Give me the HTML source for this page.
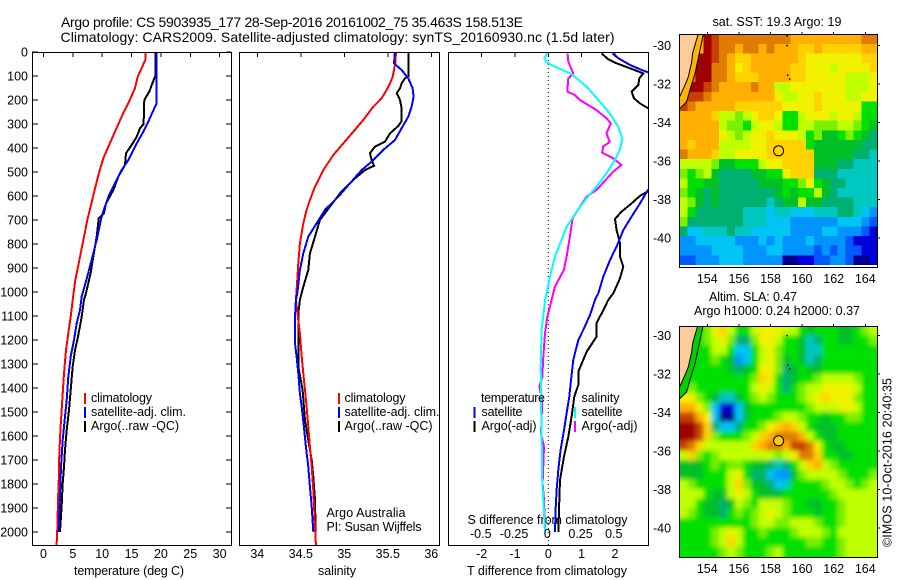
<!DOCTYPE html>
<html>
<head>
<meta charset="utf-8">
<title>Argo profile</title>
<style>
html,body{margin:0;padding:0;background:#fff;}
svg{display:block;}
text{font-family:"Liberation Sans",sans-serif;font-size:12.5px;fill:#000;}
</style>
</head>
<body>
<svg id="chart" xmlns="http://www.w3.org/2000/svg" width="900" height="580" viewBox="0 0 900 580">
<defs>
<clipPath id="clip1"><rect x="32" y="52" width="199" height="494"/></clipPath>
<clipPath id="clip2"><rect x="239" y="52" width="200" height="494"/></clipPath>
<clipPath id="clip3"><rect x="448" y="52" width="200" height="494"/></clipPath>
<clipPath id="clipSst"><rect x="680" y="34" width="197" height="233"/></clipPath>
<clipPath id="clipSla"><rect x="680" y="326" width="197" height="231"/></clipPath>
<filter id="smooth" x="-5%" y="-5%" width="110%" height="110%"><feGaussianBlur stdDeviation="2.4"/></filter>
</defs>
<text x="61" y="27" font-size="14" style="font-size:14px" textLength="462" lengthAdjust="spacing">Argo profile: CS 5903935_177 28-Sep-2016 20161002_75 35.463S 158.513E</text>
<text x="60.5" y="42" style="font-size:14px" textLength="554" lengthAdjust="spacing">Climatology: CARS2009. Satellite-adjusted climatology: synTS_20160930.nc (1.5d later)</text>
<text x="74" y="575" textLength="110" lengthAdjust="spacing">temperature (deg C)</text>
<text x="318" y="575" textLength="38" lengthAdjust="spacing">salinity</text>
<text x="467" y="575" textLength="160" lengthAdjust="spacing">T difference from climatology</text>
<text x="467.5" y="524" textLength="160" lengthAdjust="spacing">S difference from climatology</text>
<text x="326.5" y="517" textLength="79" lengthAdjust="spacing">Argo Australia</text>
<text x="326.5" y="531" textLength="95" lengthAdjust="spacing">PI: Susan Wijffels</text>
<text x="712.5" y="26" textLength="129" lengthAdjust="spacing">sat. SST: 19.3 Argo: 19</text>
<text x="709" y="301" textLength="88" lengthAdjust="spacing">Altim. SLA: 0.47</text>
<text x="694" y="315" textLength="166" lengthAdjust="spacing">Argo h1000: 0.24 h2000: 0.37</text>
<text x="0" y="0" transform="translate(891.5,547) rotate(-90)" textLength="169" lengthAdjust="spacing">©IMOS 10-Oct-2016 20:40:35</text>
<g id="layer-maps"></g>
<g id="layer-lines"></g>
<g id="layer-axes"></g>
<g id="layer-legend"></g>
</svg>
<script>
// ---------- axis ticks ----------
const depthTicks = [0,100,200,300,400,500,600,700,800,900,1000,1100,1200,1300,1400,1500,1600,1700,1800,1900,2000];
const tempTicks = [0,5,10,15,20,25,30];
const salTicks = [34,34.5,35,35.5,36];
const tDiffTicks = [-2,-1,0,1,2];
const sDiffTicks = [-0.5,-0.25,0,0.25,0.5];
const lonTicks = [154,156,158,160,162,164];
const latTicks = [-30,-32,-34,-36,-38,-40];

// ---------- temperature panel ----------
const tempClimDepth = [0,33,68,103,151,214,269,332,394,443,499,568,644,700,797,881,950,1033,1103,1172,1242,1339,1450,1561,1672,1756,1867,1978,2054];
const tempClimValue = [17.35,17.35,16.72,16.04,15.59,14.45,13.32,12.18,11.05,10.19,9.51,8.77,8.03,7.47,6.67,5.99,5.42,4.97,4.63,4.23,3.83,3.49,3.21,2.92,2.70,2.64,2.47,2.36,2.24];
const tempSatDepth = [0,214,228,290,332,381,450,492,547,603,686,783,867,936,1019,1075,1131,1200,1269,1353,1450,1519,1617,1728,1853,1950,1999];
const tempSatValue = [19.28,19.28,19.0,17.86,17.0,15.87,14.45,13.3,12.18,11.05,9.9,9.06,8.2,7.47,6.5,6.22,5.65,5.2,4.63,4.23,3.95,3.66,3.27,2.98,2.81,2.64,2.58];
const tempArgoDepth = [0,100,138,165,200,300,318,353,387,422,471,519,575,631,672,693,769,867,922,1005,1033,1103,1158,1200,1242,1311,1408,1492,1575,1658,1728,1797,1894,1999];
const tempArgoValue = [19.05,19.05,18.43,18.03,17.18,17.06,16.44,15.87,15.02,14.05,13.88,12.75,11.9,10.65,10.31,9.4,9.06,8.38,8.03,7.24,6.9,6.5,6.1,5.76,5.37,4.97,4.63,4.34,3.95,3.66,3.49,3.27,3.09,2.81];

// ---------- salinity panel ----------
const salClimDepth = [0,47,103,131,158,193,228,283,332,381,429,492,561,617,658,714,797,881,992,1033,1117,1172,1269,1339,1408,1478,1561,1644,1728,1825,1978,2054];
const salClimValue = [35.594,35.586,35.556,35.525,35.487,35.429,35.333,35.218,35.103,34.989,34.874,34.759,34.663,34.605,34.567,34.529,34.49,34.471,34.452,34.444,34.471,34.49,34.51,34.529,34.548,34.567,34.586,34.605,34.625,34.644,34.663,34.674];
const salSatDepth = [0,47,75,110,151,186,228,269,318,367,408,457,492,547,603,658,714,769,839,908,1006,1033,1103,1214,1269,1339,1422,1478,1561,1644,1728,1811,1894,1999];
const salSatValue = [35.582,35.571,35.659,35.736,35.785,35.797,35.774,35.736,35.659,35.582,35.448,35.314,35.199,35.065,34.931,34.778,34.682,34.586,34.529,34.49,34.46,34.444,34.433,34.433,34.452,34.471,34.49,34.51,34.536,34.559,34.586,34.605,34.625,34.644];
const salArgoDepth = [0,100,110,131,151,172,200,228,290,308,339,374,394,422,450,474,492,533,589,644,700,769,839,908,978,1033,1089,1311,1408,1533,1617,1700,1769,1867,1999];
const salArgoValue = [35.739,35.739,35.697,35.659,35.64,35.602,35.64,35.655,35.655,35.621,35.525,35.467,35.352,35.295,35.314,35.341,35.238,35.103,34.95,34.835,34.72,34.663,34.605,34.586,34.529,34.49,34.471,34.471,34.521,34.548,34.586,34.625,34.644,34.663,34.67];

// ---------- difference panel ----------
const dTempSatDepth = [6,26,54,72,85,214,400,579,631,686,742,811,867,936,1006,1033,1096,1158,1200,1283,1367,1436,1506,1575,1658,1742,1825,1908,1999];
const dTempSatValue = [1.93,2.1,2.45,2.75,3.0,4.8,4.0,2.97,2.75,2.5,2.25,2.05,1.85,1.65,1.5,1.4,1.25,1.05,0.9,0.75,0.68,0.63,0.55,0.47,0.37,0.3,0.25,0.22,0.2];
const dTempArgoDepth = [6,31,47,68,89,110,138,165,193,214,235,350,579,599,631,665,696,742,797,853,894,943,1006,1033,1075,1130,1186,1249,1332,1387,1436,1519,1603,1686,1783,1908,1999];
const dTempArgoValue = [1.6,1.8,2.05,2.45,2.85,2.73,2.7,2.5,2.57,2.75,3.0,4.0,3.0,2.75,2.5,2.2,2.0,2.05,2.15,2.15,2.25,2.15,1.95,1.8,1.65,1.45,1.45,1.15,0.9,0.9,0.78,0.7,0.6,0.47,0.35,0.32,0.3];
const dSalSatDepth = [6,26,43,64,92,144,207,256,311,360,408,450,506,561,610,665,728,783,853,936,1006,1033,1075,1158,1311,1450,1589,1797,1867,1999];
const dSalSatValue = [-0.0075,-0.03,-0.0125,0.0625,0.175,0.2875,0.3875,0.4625,0.525,0.5575,0.5375,0.5,0.4375,0.3625,0.2875,0.2125,0.1375,0.1,0.05,0.0125,-0.0125,-0.025,-0.0325,-0.05,-0.0575,-0.055,-0.05,-0.045,-0.0375,-0.025];
const dSalArgoDepth = [6,40,89,110,165,179,200,221,242,276,297,339,374,394,419,443,471,499,575,603,644,693,769,853,908,978,1033,1061,1103,1172,1269,1353,1394,1450,1589,1644,1797,1867,1999];
const dSalArgoValue = [0.145,0.15,0.1875,0.15,0.1425,0.2,0.2375,0.3,0.3625,0.4375,0.47,0.4375,0.4625,0.4125,0.405,0.4875,0.55,0.4875,0.3625,0.2875,0.2375,0.1825,0.1625,0.1375,0.1175,0.05,0.025,0.0125,-0.0075,-0.025,-0.0375,-0.045,-0.0675,-0.045,-0.055,-0.0325,-0.0425,-0.0325,-0.025];

// ---------- map colour levels ----------
const levelColors = ["#00008c","#0000d8","#0058ff","#0094ff","#00c4f4","#00c8c0","#00b070","#00c028","#00e000","#78f000","#c0ff00","#f0f200","#ffd200","#ffb000","#e07c00","#c84000","#a00000"];

// ---------- SST grid (colour level per 0.5 degree cell, north to south) ----------
const sstRow00 = [13,13,13,16,15,14,14,14,14,14,14,14,14,14,13,13,13,13,13,13,13,13,13,14,14];
const sstRow01 = [13,13,13,16,15,14,14,13,14,14,13,14,13,13,13,12,12,13,12,12,12,12,12,13,13];
const sstRow02 = [13,13,16,16,15,14,13,12,12,13,13,13,13,13,13,12,11,11,11,11,11,11,11,12,12];
const sstRow03 = [13,13,16,16,14,14,13,11,12,13,13,13,13,13,12,12,11,11,11,10,11,11,11,11,12];
const sstRow04 = [13,14,16,16,14,14,13,12,12,12,13,13,13,13,12,12,11,11,11,11,11,10,10,10,11];
const sstRow05 = [13,16,16,15,14,13,13,13,13,14,13,13,10,10,11,11,11,11,11,11,11,10,10,10,11];
const sstRow06 = [14,15,15,14,13,13,13,13,13,13,13,13,11,10,10,11,11,12,11,11,11,10,10,11,11];
const sstRow07 = [15,14,13,13,13,13,13,12,12,12,12,12,12,11,11,11,11,12,11,11,11,11,11,8,8];
const sstRow08 = [13,13,13,13,12,10,10,9,10,11,12,12,11,8,8,10,11,11,11,10,11,11,10,8,8];
const sstRow09 = [13,13,13,13,13,10,9,9,8,10,11,11,10,8,8,10,10,9,9,9,10,10,9,8,7];
const sstRow10 = [13,13,13,13,13,11,10,9,10,11,11,12,11,11,11,10,8,9,7,7,8,9,8,7,6];
const sstRow11 = [13,12,13,13,13,10,10,10,10,11,11,12,12,12,12,12,8,7,7,7,7,7,7,6,6];
const sstRow12 = [14,13,13,13,12,10,10,11,11,11,11,12,12,12,12,12,12,7,7,7,7,7,6,6,5];
const sstRow13 = [10,10,10,10,9,7,7,8,8,8,10,11,11,12,12,12,12,7,7,7,6,6,5,5,5];
const sstRow14 = [9,8,9,10,7,6,6,6,6,7,7,8,8,11,12,12,12,6,6,6,5,5,5,5,5];
const sstRow15 = [10,8,8,7,7,6,6,6,6,6,7,7,7,8,8,9,11,8,7,6,6,5,5,5,5];
const sstRow16 = [9,8,7,6,7,6,6,6,6,6,6,6,7,8,7,8,8,10,7,6,5,5,5,5,5];
const sstRow17 = [10,9,7,6,7,6,6,6,6,6,6,5,6,7,7,10,7,7,6,6,6,6,5,5,5];
const sstRow18 = [10,8,6,6,6,6,6,6,5,5,5,4,5,5,4,4,4,5,5,5,6,6,5,4,3];
const sstRow19 = [9,6,6,6,6,6,6,6,5,5,5,4,4,4,3,3,3,3,3,3,4,4,4,3,2];
const sstRow20 = [6,4,4,5,5,5,6,5,5,4,4,4,4,4,3,3,3,3,4,4,3,3,3,2,1];
const sstRow21 = [3,3,4,4,4,4,4,3,3,3,4,3,4,3,3,3,4,3,3,3,3,2,1,1,1];
const sstRow22 = [3,3,3,3,4,4,4,4,3,3,3,4,4,3,3,3,3,2,3,2,3,2,2,1,1];
const sstRow23 = [2,2,3,3,3,4,4,4,3,3,3,3,3,0,0,1,1,2,2,3,3,2,0,0,1];
const sstGrid = [sstRow00,sstRow01,sstRow02,sstRow03,sstRow04,sstRow05,sstRow06,sstRow07,sstRow08,sstRow09,sstRow10,sstRow11,sstRow12,sstRow13,sstRow14,sstRow15,sstRow16,sstRow17,sstRow18,sstRow19,sstRow20,sstRow21,sstRow22,sstRow23];

// ---------- SLA grid ----------
const slaRow00 = [8,8,8,9,11,12,10,8,8,10,11,11,11,10,10,8,7,8,8,8,7,7,8,9,10];
const slaRow01 = [8,8,8,9,10,11,9,6,6,9,11,11,10,8,8,7,5,6,8,8,7,7,8,8,9];
const slaRow02 = [8,8,8,8,10,10,8,4,4,8,10,11,9,8,8,7,5,5,8,8,8,8,8,8,8];
const slaRow03 = [8,8,8,8,9,8,7,3,4,8,10,11,9,7,8,7,5,6,8,8,8,8,8,8,8];
const slaRow04 = [8,8,8,8,8,8,7,6,7,8,11,11,9,6,7,8,7,7,8,8,8,8,8,8,8];
const slaRow05 = [8,8,8,8,8,8,8,8,8,9,12,11,8,6,7,8,8,9,10,10,10,10,9,8,8];
const slaRow06 = [8,9,8,8,8,8,8,8,8,10,11,10,8,6,8,9,10,10,11,11,11,11,10,8,8];
const slaRow07 = [11,11,9,8,7,5,5,7,8,9,10,9,8,8,8,9,10,11,12,11,11,11,9,8,8];
const slaRow08 = [13,13,11,9,4,1,1,4,7,8,8,8,8,8,8,8,9,10,10,10,11,11,10,8,8];
const slaRow09 = [15,15,13,11,4,0,0,4,7,8,8,8,9,10,10,9,8,8,7,8,8,9,9,8,8];
const slaRow10 = [16,16,15,12,6,4,4,6,8,8,9,11,12,13,12,10,8,7,7,7,8,8,8,8,8];
const slaRow11 = [16,16,15,12,9,8,8,8,9,10,12,13,14,14,14,13,10,8,7,7,8,8,8,8,8];
const slaRow12 = [15,14,12,10,10,10,10,10,10,12,13,14,14,13,15,15,14,11,8,7,7,8,8,8,8];
const slaRow13 = [10,12,9,8,9,10,10,10,10,10,10,10,9,10,11,14,14,12,8,8,7,7,8,8,8];
const slaRow14 = [7,7,7,8,9,8,9,9,8,7,7,6,5,6,8,10,12,13,10,9,8,8,8,8,8];
const slaRow15 = [7,7,7,8,8,8,10,11,8,6,6,4,3,3,7,9,10,10,10,10,9,8,8,8,9];
const slaRow16 = [10,9,8,8,8,8,10,12,9,7,7,6,4,5,8,8,8,8,9,10,10,9,8,9,10];
const slaRow17 = [10,10,10,8,7,7,10,11,10,8,7,7,7,8,8,8,8,8,8,9,10,10,10,10,10];
const slaRow18 = [10,10,8,7,7,6,7,10,9,8,10,10,10,9,8,8,7,7,8,8,9,10,10,10,10];
const slaRow19 = [10,9,8,7,7,6,8,9,8,9,10,11,10,9,8,8,8,7,8,8,9,10,10,10,10];
const slaRow20 = [8,8,8,8,8,8,8,8,8,9,10,10,9,9,10,10,10,9,8,8,9,10,10,10,10];
const slaRow21 = [8,8,8,8,9,10,11,10,8,8,9,8,8,8,9,10,10,10,9,8,10,10,10,10,10];
const slaRow22 = [8,8,8,8,9,10,12,10,8,8,8,8,8,8,8,8,9,9,8,8,9,10,10,10,10];
const slaRow23 = [8,8,8,8,8,9,10,9,8,8,8,9,10,8,8,8,8,8,8,8,9,10,10,10,10];
const slaGrid = [slaRow00,slaRow01,slaRow02,slaRow03,slaRow04,slaRow05,slaRow06,slaRow07,slaRow08,slaRow09,slaRow10,slaRow11,slaRow12,slaRow13,slaRow14,slaRow15,slaRow16,slaRow17,slaRow18,slaRow19,slaRow20,slaRow21,slaRow22,slaRow23];

// ---------- geography ----------
const coastLon = [153.43,153.28,153.07,153.01,152.80,152.59,152.44,152.25];
const coastLat = [-29.4,-29.8,-30.4,-30.84,-31.62,-32.05,-32.31,-32.66];
const isobathLon = [153.75,153.54,153.22,152.90,152.69,152.27];
const isobathLat = [-29.4,-30.23,-31.45,-32.31,-32.92,-33.26];
const islandLon = [159.03,159.03,159.07,159.2];
const islandLat = [-29.47,-29.98,-31.52,-31.72];
const floatLon = 158.513;
const floatLat = -35.463;

// ---------- scales ----------
const NS = "http://www.w3.org/2000/svg";
const yDepth = d => 52 + 0.24 * d;
const xTemp = v => 43.5 + 5.87 * v;
const xSal = v => 257.3 + 87 * (v - 34);
const xTDiff = v => 548.3 + 33.33 * v;
const xSDiff = v => 548.3 + 133 * v;
const xLon = v => 707.3 + 15.8 * (v - 154);
const ySst = v => 45.7 + 19.23 * (-30 - v);
const ySla = v => 335.7 + 19.23 * (-30 - v);
const lonStart = 152.25, cellLon = 0.5, cellLat = 0.5;

function mk(parent, tag, attrs, txt) {
  const e = document.createElementNS(NS, tag);
  for (const k in attrs) e.setAttribute(k, attrs[k]);
  if (txt !== undefined) e.textContent = txt;
  parent.appendChild(e);
  return e;
}
const maps = document.getElementById("layer-maps");
const linesLayer = document.getElementById("layer-lines");
const axes = document.getElementById("layer-axes");
const legendLayer = document.getElementById("layer-legend");

// ---------- profile lines ----------
function drawLine(parent, xs, depths, xFn, color, name, width) {
  const pts = xs.map((v, i) => xFn(v).toFixed(1) + "," + yDepth(depths[i]).toFixed(1)).join(" ");
  const el = mk(parent, "polyline", {points: pts, fill: "none", stroke: color, "stroke-width": width, "shape-rendering": "crispEdges"});
  
  
}
const g1 = mk(linesLayer, "g", {"clip-path": "url(#clip1)"});


drawLine(g1, tempArgoValue, tempArgoDepth, xTemp, "#000", "temperature-argo-line", 2);
drawLine(g1, tempClimValue, tempClimDepth, xTemp, "#f00", "temperature-climatology-line", 2);
drawLine(g1, tempSatValue, tempSatDepth, xTemp, "#00f", "temperature-satellite-line", 2);
const g2 = mk(linesLayer, "g", {"clip-path": "url(#clip2)"});


drawLine(g2, salArgoValue, salArgoDepth, xSal, "#000", "salinity-argo-line", 2);
drawLine(g2, salClimValue, salClimDepth, xSal, "#f00", "salinity-climatology-line", 2);
drawLine(g2, salSatValue, salSatDepth, xSal, "#00f", "salinity-satellite-line", 2);
const g3 = mk(linesLayer, "g", {"clip-path": "url(#clip3)"});


const zeroLine = mk(g3, "line", {x1: xTDiff(0), x2: xTDiff(0), y1: 52, y2: 546, stroke: "#000", "stroke-width": 1, "stroke-dasharray": "1 3"});


drawLine(g3, dTempArgoValue, dTempArgoDepth, xTDiff, "#000", "t-diff-argo-line", 2);
drawLine(g3, dTempSatValue, dTempSatDepth, xTDiff, "#00f", "t-diff-satellite-line", 2);
drawLine(g3, dSalArgoValue, dSalArgoDepth, xSDiff, "#f0f", "s-diff-argo-line", 2);
drawLine(g3, dSalSatValue, dSalSatDepth, xSDiff, "#0ff", "s-diff-satellite-line", 2);

// ---------- panel frames, ticks, labels ----------
const panels = [
  {name: "temperature", x: 32.5, w: 199, ticks: tempTicks, fn: xTemp},
  {name: "salinity", x: 239.5, w: 200, ticks: salTicks, fn: xSal},
  {name: "difference", x: 448.5, w: 200, ticks: tDiffTicks, fn: xTDiff}
];
panels.forEach(p => {
  const fr = mk(axes, "rect", {x: p.x, y: 52.5, width: p.w, height: 493, fill: "none", stroke: "#000", "stroke-width": 1, "shape-rendering": "crispEdges"});
  
  
  p.ticks.forEach(t => {
    const x = p.fn(t);
    const tk = mk(axes, "line", {x1: x, x2: x, y1: 52, y2: 57, stroke: "#000", "shape-rendering": "crispEdges"});
    
    
    const lb = mk(axes, "text", {x: x, y: 558, "text-anchor": "middle"}, String(t));
    
    
  });
});
sDiffTicks.forEach(t => {
  const lb = mk(axes, "text", {x: xSDiff(t) - 1, y: 538, "text-anchor": "middle"}, String(t));
  
  
});
depthTicks.forEach(d => {
  const y = yDepth(d);
  const lb = mk(axes, "text", {x: 28, y: y + 4.5, "text-anchor": "end"}, String(d));
  
  
  const a = mk(axes, "line", {x1: 32, x2: 38, y1: y, y2: y, stroke: "#000", "shape-rendering": "crispEdges"});
  
  
  const b = mk(axes, "line", {x1: 226, x2: 231, y1: y, y2: y, stroke: "#000", "shape-rendering": "crispEdges"});
  
  
});

// ---------- legends ----------
const legendItems = [
  {name: "temp-climatology", bar: 84, tx: 91, y: 402, color: "#f00", label: "climatology", len: 61},
  {name: "temp-satellite", bar: 84, tx: 91, y: 416, color: "#00f", label: "satellite-adj. clim.", len: 95},
  {name: "temp-argo", bar: 84, tx: 91, y: 430, color: "#000", label: "Argo(..raw -QC)", len: 88},
  {name: "sal-climatology", bar: 338, tx: 344.5, y: 402, color: "#f00", label: "climatology", len: 61},
  {name: "sal-satellite", bar: 338, tx: 344.5, y: 416, color: "#00f", label: "satellite-adj. clim.", len: 95},
  {name: "sal-argo", bar: 338, tx: 344.5, y: 430, color: "#000", label: "Argo(..raw -QC)", len: 88},
  {name: "diff-temperature-heading", bar: 0, tx: 481, y: 402, color: "", label: "temperature", len: 64},
  {name: "diff-t-satellite", bar: 473.5, tx: 481.5, y: 416, color: "#00f", label: "satellite", len: 41},
  {name: "diff-t-argo", bar: 473.5, tx: 481.5, y: 430, color: "#000", label: "Argo(-adj)", len: 55},
  {name: "diff-salinity-heading", bar: 0, tx: 581.5, y: 402, color: "", label: "salinity", len: 38},
  {name: "diff-s-satellite", bar: 574, tx: 581.5, y: 416, color: "#0ff", label: "satellite", len: 41},
  {name: "diff-s-argo", bar: 574, tx: 581.5, y: 430, color: "#f0f", label: "Argo(-adj)", len: 56}
];
legendItems.forEach(it => {
  if (it.color) {
    const b = mk(legendLayer, "rect", {x: it.bar, y: it.y - 9, width: 2, height: 11, fill: it.color, "shape-rendering": "crispEdges"});
    
    
  }
  const t = mk(legendLayer, "text", {x: it.tx, y: it.y, textLength: it.len, lengthAdjust: "spacing"}, it.label);
  
  
});

// ---------- maps ----------
function drawMap(opts) {
  const outer = mk(maps, "g", {"clip-path": "url(#" + opts.clip + ")"});
  
  
  const cells = mk(outer, "g", opts.smooth ? {filter: "url(#smooth)"} : {"shape-rendering": "crispEdges"});
  
  
  const nRows = opts.grid.length;
  opts.grid.forEach((row, r) => {
    const nCols = row.length;
    row.forEach((lvl, c) => {
      const lon0 = lonStart + c * cellLon;
      const lat0 = opts.topLat - r * cellLat;
      let x = xLon(lon0), w = xLon(lon0 + cellLon) - x;
      let y = opts.yFn(lat0), h = opts.yFn(lat0 - cellLat) - y;
      if (opts.smooth) {
        if (c === 0) { x -= 12; w += 12; }
        if (c === nCols - 1) { w += 12; }
        if (r === 0) { y -= 12; h += 12; }
        if (r === nRows - 1) { h += 12; }
      }
      const cell = mk(cells, "rect", {x: x.toFixed(2), y: y.toFixed(2), width: (w + 0.3).toFixed(2), height: (h + 0.3).toFixed(2), fill: levelColors[lvl]});
      
      
    });
  });
  const path = (lons, lats) => lons.map((v, i) => xLon(v).toFixed(1) + "," + opts.yFn(lats[i]).toFixed(1));
  const coastPts = path(coastLon, coastLat);
  const isoPts = path(isobathLon, isobathLat);
  const strip = mk(outer, "polygon", {points: coastPts.concat(isoPts.slice().reverse()).join(" "), fill: opts.stripColor});
  
  
  const land = mk(outer, "polygon", {points: coastPts.join(" ") + " " + xLon(lonStart - 0.2).toFixed(1) + "," + opts.yFn(coastLat[7]).toFixed(1) + " " + xLon(lonStart - 0.2).toFixed(1) + "," + opts.yFn(coastLat[0] + 0.2).toFixed(1) + " " + xLon(coastLon[0]).toFixed(1) + "," + opts.yFn(coastLat[0] + 0.2).toFixed(1), fill: "#ffcc99"});
  
  
  const coast = mk(outer, "polyline", {points: coastPts.join(" "), fill: "none", stroke: "#000", "stroke-width": 1});
  
  
  const iso = mk(outer, "polyline", {points: isoPts.join(" "), fill: "none", stroke: "#000", "stroke-width": 1});
  
  
  islandLon.forEach((v, i) => {
    const m = mk(outer, "rect", {x: xLon(v) - 0.5, y: opts.yFn(islandLat[i]) - 0.5, width: 1.5, height: 1.5, fill: "#000"});
    
    
  });
  const mark = mk(outer, "circle", {cx: xLon(floatLon).toFixed(1), cy: opts.yFn(floatLat).toFixed(1), r: 5, fill: opts.markerFill, stroke: "#000", "stroke-width": 1});
  
  
  const fr = mk(maps, "rect", {x: 679.5, y: opts.top + 0.5, width: 198, height: opts.height, fill: "none", stroke: "#000", "stroke-width": 1, "shape-rendering": "crispEdges"});
  
  
  lonTicks.forEach(t => {
    const x = xLon(t);
    const tk = mk(maps, "line", {x1: x, x2: x, y1: opts.top - 2, y2: opts.top, stroke: "#000", "shape-rendering": "crispEdges"});
    
    
    const lb = mk(maps, "text", {x: x, y: opts.lonLabelY, "text-anchor": "middle"}, String(t));
    
    
  });
  latTicks.forEach(t => {
    const y = opts.yFn(t);
    const tk = mk(maps, "line", {x1: 878, x2: 880, y1: y, y2: y, stroke: "#000", "shape-rendering": "crispEdges"});
    
    
    const lb = mk(maps, "text", {x: 653, y: y + 4.5}, String(t));
    
    
  });
}
drawMap({name: "sst", clip: "clipSst", grid: sstGrid, yFn: ySst, topLat: -29.4, smooth: false, stripColor: "#ffb400", markerFill: "none", top: 34, height: 233, lonLabelY: 283});
drawMap({name: "sla", clip: "clipSla", grid: slaGrid, yFn: ySla, topLat: -29.48, smooth: true, stripColor: "#00d000", markerFill: "#ffc800", top: 326, height: 231, lonLabelY: 573});
</script>
</body>
</html>
